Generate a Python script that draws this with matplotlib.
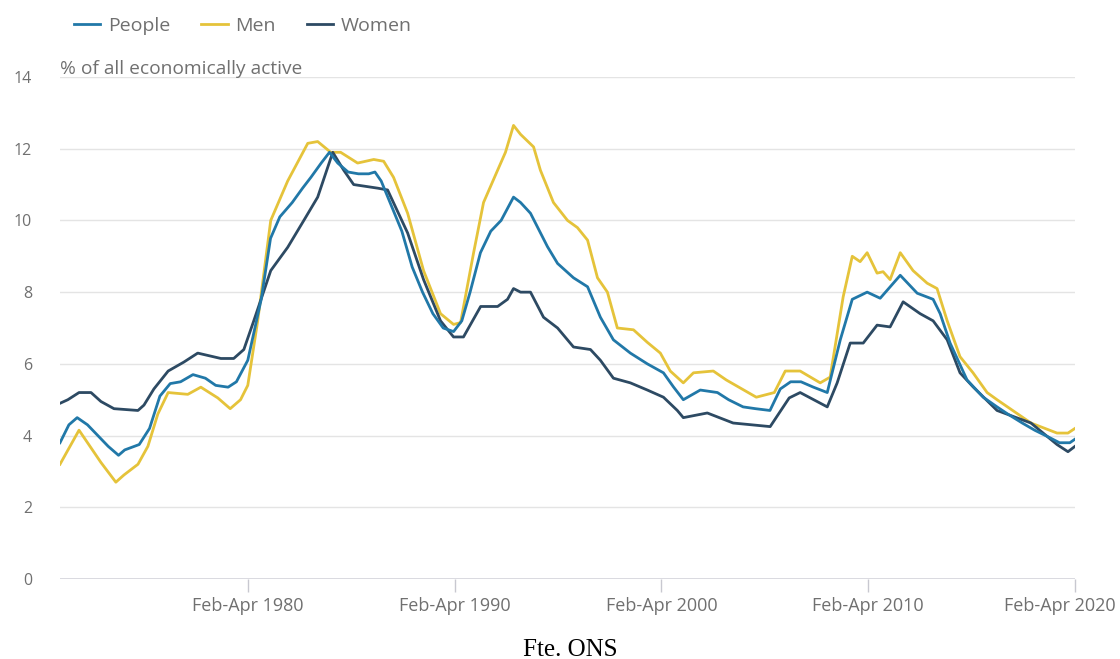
import matplotlib
matplotlib.use("Agg")
import matplotlib.pyplot as plt
import matplotlib.transforms as mtransforms

# decimal years (mid-point of rolling 3-month period) and rates in %
people_years = [1971.17, 1971.6, 1972.0, 1972.5, 1973.0, 1973.5, 1974.0, 1974.3, 1975.0, 1975.5,
                1976.0, 1976.5, 1977.0, 1977.6, 1978.2, 1978.7, 1979.3, 1979.7, 1980.25, 1980.9,
                1981.35, 1981.8, 1982.4, 1982.9, 1983.3, 1983.8, 1984.2, 1984.6, 1985.1, 1985.6,
                1986.1, 1986.4, 1986.7, 1987.2, 1987.7, 1988.2, 1988.7, 1989.2, 1989.7, 1990.2,
                1990.6, 1991.0, 1991.5, 1992.0, 1992.5, 1993.1, 1993.44, 1993.92, 1994.74, 1995.23,
                1996.0, 1996.68, 1997.3, 1997.93, 1998.75, 1999.57, 2000.35, 2000.83, 2001.31, 2002.13,
                2002.96, 2003.5, 2004.2, 2004.8, 2005.5, 2006.0, 2006.5, 2007.0, 2007.6, 2008.27,
                2008.9, 2009.48, 2010.2, 2010.83, 2011.8, 2012.62, 2013.39, 2013.73, 2014.21, 2015.03,
                2015.81, 2016.48, 2017.0, 2017.7, 2018.3, 2019.0, 2019.5, 2020.0, 2020.25]
people = [3.8, 4.3, 4.5, 4.3, 4.0, 3.7, 3.45, 3.6, 3.75, 4.2,
          5.1, 5.45, 5.5, 5.7, 5.6, 5.4, 5.35, 5.5, 6.1, 7.8,
          9.5, 10.1, 10.5, 10.9, 11.2, 11.6, 11.9, 11.6, 11.35, 11.3,
          11.3, 11.35, 11.1, 10.4, 9.7, 8.7, 8.0, 7.4, 7.0, 6.9,
          7.2, 8.0, 9.1, 9.7, 10.0, 10.65, 10.5, 10.2, 9.27, 8.8,
          8.4, 8.15, 7.3, 6.67, 6.3, 6.0, 5.75, 5.36, 5.0, 5.27,
          5.2, 5.0, 4.8, 4.75, 4.7, 5.3, 5.5, 5.5, 5.35, 5.2,
          6.67, 7.8, 8.0, 7.83, 8.47, 7.97, 7.8, 7.4, 6.58, 5.55,
          5.07, 4.8, 4.6, 4.35, 4.15, 3.95, 3.8, 3.8, 3.9]

men_years = [1971.17, 1972.09, 1973.15, 1973.87, 1974.26, 1974.94, 1975.42, 1975.9, 1976.4, 1977.35,
             1977.98, 1978.8, 1979.4, 1979.9, 1980.25, 1980.73, 1981.36, 1982.18, 1983.15, 1983.63,
             1984.26, 1984.74, 1985.56, 1986.34, 1986.82, 1987.3, 1987.98, 1988.75, 1989.57, 1990.2,
             1990.54, 1991.17, 1991.65, 1992.33, 1992.71, 1993.1, 1993.44, 1994.07, 1994.4, 1995.03,
             1995.71, 1996.19, 1996.68, 1997.16, 1997.64, 1998.12, 1998.9, 1999.57, 2000.2, 2000.68,
             2001.31, 2001.8, 2002.76, 2003.39, 2004.84, 2005.71, 2006.24, 2006.96, 2007.93, 2008.41,
             2009.04, 2009.48, 2009.86, 2010.2, 2010.68, 2010.97, 2011.31, 2011.8, 2012.42, 2013.1,
             2013.58, 2014.07, 2014.69, 2015.32, 2016.0, 2016.48, 2018.12, 2019.38, 2019.91, 2020.25]
men = [3.2, 4.15, 3.25, 2.7, 2.9, 3.2, 3.7, 4.6, 5.2, 5.15,
       5.35, 5.05, 4.75, 5.0, 5.4, 7.2, 10.0, 11.1, 12.15, 12.2,
       11.9, 11.9, 11.6, 11.7, 11.65, 11.2, 10.2, 8.6, 7.4, 7.1,
       7.15, 9.1, 10.5, 11.4, 11.9, 12.65, 12.4, 12.05, 11.4, 10.5,
       10.0, 9.8, 9.45, 8.4, 8.0, 7.0, 6.95, 6.6, 6.3, 5.8,
       5.47, 5.75, 5.8, 5.55, 5.07, 5.2, 5.8, 5.8, 5.47, 5.63,
       7.87, 9.0, 8.85, 9.1, 8.53, 8.57, 8.35, 9.1, 8.6, 8.25,
       8.1, 7.2, 6.2, 5.75, 5.2, 5.0, 4.35, 4.07, 4.07, 4.2]

women_years = [1971.17, 1971.55, 1972.09, 1972.67, 1973.15, 1973.78, 1974.94, 1975.23, 1975.71, 1976.4,
               1977.16, 1977.83, 1978.95, 1979.57, 1980.06, 1980.54, 1981.36, 1982.18, 1982.96, 1983.63,
               1984.36, 1984.89, 1985.37, 1986.53, 1987.01, 1987.98, 1988.75, 1989.57, 1990.2, 1990.68,
               1991.51, 1992.33, 1992.81, 1993.1, 1993.44, 1993.92, 1994.55, 1995.23, 1996.0, 1996.82,
               1997.3, 1997.93, 1998.75, 1999.57, 2000.35, 2001.02, 2001.31, 2002.47, 2003.72, 2005.51,
               2006.43, 2006.96, 2008.27, 2008.75, 2009.38, 2010.01, 2010.68, 2011.31, 2011.94, 2012.76,
               2013.39, 2014.07, 2014.69, 2015.32, 2016.48, 2018.12, 2019.38, 2019.91, 2020.25]
women = [4.9, 5.0, 5.2, 5.2, 4.95, 4.75, 4.7, 4.85, 5.3, 5.8,
         6.05, 6.3, 6.15, 6.15, 6.4, 7.2, 8.6, 9.25, 10.0, 10.65,
         11.9, 11.4, 11.0, 10.9, 10.85, 9.65, 8.35, 7.2, 6.75, 6.75,
         7.6, 7.6, 7.8, 8.1, 8.0, 8.0, 7.3, 7.0, 6.47, 6.4,
         6.1, 5.6, 5.47, 5.27, 5.07, 4.7, 4.5, 4.63, 4.35, 4.25,
         5.05, 5.2, 4.8, 5.47, 6.58, 6.58, 7.08, 7.03, 7.73, 7.4,
         7.2, 6.67, 5.75, 5.36, 4.7, 4.35, 3.75, 3.55, 3.7]

tick_years = [1980.25, 1990.25, 2000.25, 2010.25, 2020.25]
tick_labels = ["Feb-Apr 1980", "Feb-Apr 1990", "Feb-Apr 2000", "Feb-Apr 2010", "Feb-Apr 2020"]

plt.rcParams['font.family'] = ['Open Sans', 'DejaVu Sans']
grey_text = '#707070'

fig = plt.figure(figsize=(11.2, 6.59), dpi=100)
ax = fig.add_axes([60 / 1120, 80 / 659, 1015 / 1120, 502 / 659])

ax.plot(people_years, people, color='#2178a8', lw=2.0, label='People', zorder=3)
ax.plot(men_years, men, color='#e5c33a', lw=2.0, label='Men', zorder=2)
ax.plot(women_years, women, color='#2d4a63', lw=2.0, label='Women', zorder=2.5)

ax.set_xlim(1971.17, 2020.25)
ax.set_ylim(0, 14)
ax.set_yticks(range(0, 15, 2))
ax.set_xticks(tick_years)
ax.set_xticklabels(tick_labels)

for s in ax.spines.values():
    s.set_visible(False)
ax.yaxis.grid(True, color='#e4e4e4', lw=1)
ax.set_axisbelow(True)
ax.axhline(0, color='#d4d4dc', lw=1.2, zorder=1)

ax.tick_params(axis='y', length=0, pad=20, labelsize=11.5, labelcolor=grey_text)
ax.tick_params(axis='x', length=9, width=1, color='#c8c8d0', pad=4,
               labelsize=13, labelcolor=grey_text)

# keep last label inside the figure
last = ax.get_xticklabels()[-1]
last.set_transform(last.get_transform() + mtransforms.ScaledTranslation(-0.15, 0, fig.dpi_scale_trans))

ax.text(0, 0.998, '% of all economically active', transform=ax.transAxes,
        fontsize=13.8, color=grey_text, ha='left', va='bottom')

fig.legend(loc='upper left', bbox_to_anchor=(74 / 1120, 1 - 17 / 659), ncol=3, frameon=False,
           borderaxespad=0, borderpad=0,
           handlelength=1.35, handletextpad=0.4, columnspacing=1.6, fontsize=14,
           labelcolor=grey_text)

fig.text(570 / 1120, 9 / 659, 'Fte. ONS', family='Liberation Serif', fontsize=18,
         ha='center', va='center', color='black')

fig.savefig('out.png', dpi=100)
